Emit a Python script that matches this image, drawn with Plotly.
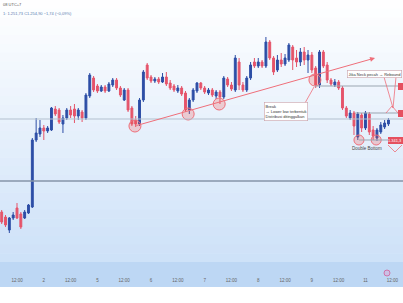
import plotly.graph_objects as go

# ---------------- data ----------------
candle_idx = list(range(102))
opens = [1188, 1183, 1170, 1182, 1192, 1186, 1182, 1187, 1193, 1260,
         1266, 1272, 1269, 1270, 1291, 1290, 1276, 1282, 1290, 1291,
         1284, 1288, 1282, 1304, 1322, 1314, 1309, 1313, 1309, 1315,
         1320, 1312, 1300, 1310, 1292, 1280, 1276, 1300, 1335, 1323,
         1319, 1321, 1318, 1323, 1317, 1314, 1309, 1312, 1307, 1290,
         1300, 1309, 1317, 1312, 1307, 1310, 1304, 1308, 1303, 1321,
         1315, 1310, 1338, 1315, 1310, 1322, 1338, 1334, 1338, 1334,
         1358, 1342, 1330, 1340, 1336, 1340, 1353, 1342, 1338, 1348,
         1340, 1345, 1332, 1315, 1348, 1335, 1320, 1315, 1318, 1312,
         1292, 1282, 1287, 1263, 1285, 1272, 1286, 1270, 1262, 1268,
         1273, 1276]
highs = [1190, 1185, 1183, 1188, 1197, 1188, 1190, 1196, 1262, 1282,
         1280, 1275, 1274, 1293, 1294, 1292, 1285, 1292, 1294, 1296,
         1292, 1290, 1307, 1327, 1324, 1316, 1315, 1315, 1318, 1322,
         1322, 1314, 1312, 1312, 1294, 1284, 1302, 1330, 1337, 1325,
         1323, 1323, 1327, 1328, 1320, 1316, 1315, 1314, 1309, 1302,
         1312, 1318, 1318, 1314, 1312, 1312, 1310, 1310, 1324, 1323,
         1318, 1345, 1342, 1318, 1324, 1338, 1342, 1342, 1340, 1363,
         1360, 1344, 1345, 1347, 1346, 1357, 1355, 1350, 1352, 1353,
         1350, 1348, 1334, 1350, 1350, 1338, 1322, 1321, 1320, 1314,
         1294, 1290, 1289, 1288, 1287, 1289, 1288, 1274, 1272, 1278,
         1280, 1282]
lows = [1176, 1173, 1167, 1180, 1181, 1171, 1181, 1186, 1192, 1258,
        1263, 1260, 1267, 1269, 1284, 1276, 1267, 1280, 1282, 1277,
        1280, 1278, 1280, 1302, 1308, 1307, 1308, 1307, 1308, 1313,
        1310, 1303, 1299, 1288, 1274, 1273, 1274, 1298, 1320, 1317,
        1317, 1316, 1317, 1314, 1310, 1308, 1307, 1304, 1288, 1286,
        1298, 1307, 1310, 1306, 1305, 1303, 1301, 1296, 1301, 1313,
        1309, 1308, 1310, 1308, 1308, 1320, 1332, 1332, 1332, 1332,
        1340, 1325, 1328, 1333, 1334, 1338, 1330, 1333, 1334, 1335,
        1327, 1327, 1312, 1312, 1332, 1317, 1314, 1313, 1310, 1290,
        1282, 1280, 1265, 1260, 1268, 1270, 1265, 1260, 1259, 1266,
        1271, 1274]
closes = [1178, 1175, 1182, 1185, 1182, 1173, 1188, 1195, 1260, 1267,
          1272, 1269, 1272, 1292, 1286, 1278, 1282, 1290, 1285, 1284,
          1290, 1282, 1305, 1325, 1310, 1309, 1313, 1309, 1316, 1320,
          1312, 1305, 1310, 1290, 1276, 1276, 1300, 1328, 1322, 1319,
          1321, 1318, 1323, 1316, 1312, 1310, 1312, 1306, 1290, 1300,
          1310, 1317, 1312, 1308, 1310, 1305, 1308, 1303, 1322, 1315,
          1311, 1342, 1315, 1310, 1322, 1335, 1334, 1338, 1334, 1358,
          1342, 1328, 1340, 1336, 1342, 1355, 1340, 1338, 1348, 1340,
          1345, 1330, 1315, 1348, 1334, 1320, 1316, 1318, 1312, 1292,
          1284, 1287, 1274, 1286, 1272, 1287, 1268, 1264, 1270, 1275,
          1277, 1280]

tick_vals = [4, 11, 18, 25, 32, 39, 46, 53, 60, 67, 74, 81, 88, 95, 102]
tick_text = ["12:00", "2", "12:00", "5", "12:00", "6", "12:00", "7",
             "12:00", "8", "12:00", "9", "12:00", "11", "12:00"]

support_level = 1281
lower_level = 1219
break_level = 1314
neck_level = 1287
bottom_level = 1260

trend_x = [34.8, 97.5]
trend_y = [1274, 1342]
touch_x = [34.8, 48.7, 56.8, 81.8]
touch_y = [1274, 1286, 1296, 1320]
db_x = [93.3, 97.8]
db_y = [1260, 1260]

# ---------------- layout helpers ----------------
W, H = 403, 303
PB = 262  # plot bottom in px


def px(x):
    return x / W


def py(y):
    return (PB - y) / PB


RED = "#e5546a"
BLUE = "#2d4ea6"
PINK = "#ef6f7a"

fig = go.Figure()
fig.add_trace(go.Candlestick(
    x=candle_idx, open=opens, high=highs, low=lows, close=closes,
    increasing=dict(line=dict(color=BLUE, width=1), fillcolor=BLUE),
    decreasing=dict(line=dict(color=RED, width=1), fillcolor=RED),
    whiskerwidth=0, hoverinfo="skip", showlegend=False,
))

fig.add_trace(go.Scatter(
    x=touch_x, y=touch_y, mode="markers", hoverinfo="skip", showlegend=False,
    marker=dict(size=12, color="rgba(239,83,80,0.25)", line=dict(color=PINK, width=1)),
))
fig.add_trace(go.Scatter(
    x=db_x, y=db_y, mode="markers", hoverinfo="skip", showlegend=False,
    marker=dict(size=10, color="rgba(239,83,80,0.25)", line=dict(color=PINK, width=1)),
))

shapes = []
# gradient background
n = 30
for b in range(n):
    t = (b + 0.5) / n
    r = round(255 - t * 50)
    g = round(255 - t * 30)
    bl = round(255 - t * 7)
    shapes.append(dict(type="rect", xref="paper", yref="paper", x0=0, x1=1,
                       y0=1 - b / n, y1=1 - (b + 1) / n - 0.002,
                       fillcolor=f"rgb({r},{g},{bl})", line=dict(width=0), layer="below"))
# x-axis band
shapes.append(dict(type="rect", xref="paper", yref="paper", x0=0, x1=1, y0=py(287), y1=0,
                   fillcolor="#bdd7f4", line=dict(width=0), layer="below"))
# horizontal levels
shapes.append(dict(type="line", xref="paper", yref="y", x0=0, x1=1, y0=support_level, y1=support_level,
                   line=dict(color="#b3c0cf", width=1)))
shapes.append(dict(type="line", xref="paper", yref="y", x0=0, x1=1, y0=lower_level, y1=lower_level,
                   line=dict(color="#8494a8", width=1.5)))
shapes.append(dict(type="line", xref="x", yref="y", x0=81.8, x1=110, y0=break_level, y1=break_level,
                   line=dict(color="#9aa5b1", width=1)))
shapes.append(dict(type="line", xref="x", yref="y", x0=92.3, x1=110, y0=neck_level, y1=neck_level,
                   line=dict(color="#9aa5b1", width=1)))
shapes.append(dict(type="line", xref="x", yref="y", x0=93.3, x1=110, y0=bottom_level, y1=bottom_level,
                   line=dict(color="#9aa5b1", width=1)))
# callout pointers
shapes.append(dict(type="line", xref="paper", yref="paper", x0=px(305), y0=py(103), x1=px(314), y1=py(87),
                   line=dict(color=PINK, width=0.8)))
shapes.append(dict(type="line", xref="paper", yref="paper", x0=px(384), y0=py(77), x1=px(393), y1=py(108),
                   line=dict(color=PINK, width=0.8)))
shapes.append(dict(type="line", xref="paper", yref="paper", x0=px(393), y0=py(108), x1=px(396), y1=py(77),
                   line=dict(color=PINK, width=0.8)))
# arrow outlines
shapes.append(dict(type="path", xref="paper", yref="paper",
                   path=f"M {px(386)},{py(113)} L {px(392)},{py(106)} L {px(398)},{py(113)}",
                   line=dict(color=PINK, width=0.8)))
shapes.append(dict(type="path", xref="paper", yref="paper",
                   path=f"M {px(388)},{py(145)} L {px(395)},{py(152)} L {px(402)},{py(145)}",
                   line=dict(color=PINK, width=0.8)))
# right-edge price labels
for (x0, y0, y1) in [(398, 83, 90), (398, 110, 117), (388, 137, 144)]:
    shapes.append(dict(type="rect", xref="paper", yref="paper", x0=px(x0), x1=1, y0=py(y1), y1=py(y0),
                       fillcolor="#e5505f", line=dict(width=0)))
# small icon near axis
shapes.append(dict(type="circle", xref="paper", yref="paper", x0=px(384), x1=px(390), y0=py(276), y1=py(270),
                   fillcolor="rgba(230,150,200,0.35)", line=dict(color="#d0609a", width=0.8)))

TXT = dict(family="Liberation Sans")
annotations = [
    dict(x=trend_x[1], y=trend_y[1], ax=trend_x[0], ay=trend_y[0], xref="x", yref="y",
         axref="x", ayref="y", showarrow=True, arrowhead=2, arrowsize=1, arrowwidth=1,
         arrowcolor=PINK, text=""),
    dict(x=px(286), y=py(111), xref="paper", yref="paper", xanchor="center", yanchor="middle",
         showarrow=False, align="left",
         text="Break<br>→ Lower low terbentuk<br>Distribusi ditinggalkan",
         font=dict(size=4, color="#333", **TXT),
         bgcolor="white", bordercolor="#c9a0a8", borderwidth=0.6, borderpad=1),
    dict(x=px(402), y=py(73.5), xref="paper", yref="paper", xanchor="right", yanchor="middle",
         showarrow=False, text="Jika Neck pecah → Rebound",
         font=dict(size=4, color="#333", **TXT),
         bgcolor="white", bordercolor="#c9a0a8", borderwidth=0.6, borderpad=1),
    dict(x=px(367), y=py(148), xref="paper", yref="paper", xanchor="center", yanchor="middle",
         showarrow=False, text="Double Bottom", font=dict(size=4.5, color="#444", **TXT)),
    dict(x=px(395), y=py(140.5), xref="paper", yref="paper", xanchor="center", yanchor="middle",
         showarrow=False, text="1.341,3", font=dict(size=4, color="white", **TXT)),
    dict(x=0.003, y=py(4), xref="paper", yref="paper", xanchor="left", yanchor="middle",
         showarrow=False, text="08 UTC+7", font=dict(size=4, color="#555", **TXT)),
    dict(x=0.003, y=py(13), xref="paper", yref="paper", xanchor="left", yanchor="middle",
         showarrow=False, text="1: 1.251,73 C1.254,90 −1,74 (−0,09%)",
         font=dict(size=4, color="#5a7bb0", **TXT)),
]

fig.update_layout(
    width=W, height=H,
    margin=dict(l=0, r=0, t=0, b=H - PB),
    paper_bgcolor="white", plot_bgcolor="rgba(0,0,0,0)",
    shapes=shapes, annotations=annotations, showlegend=False,
    xaxis=dict(range=[-0.44, 104.8], rangeslider=dict(visible=False), showgrid=False,
               zeroline=False, tickmode="array", tickvals=tick_vals, ticktext=tick_text,
               ticks="", ticklabelstandoff=14,
               tickfont=dict(size=4.5, color="#666", **TXT), fixedrange=True),
    yaxis=dict(range=[1138, 1400], showgrid=False, zeroline=False, showticklabels=False, fixedrange=True),
)

fig.write_html("out.html", config={"displayModeBar": False})
